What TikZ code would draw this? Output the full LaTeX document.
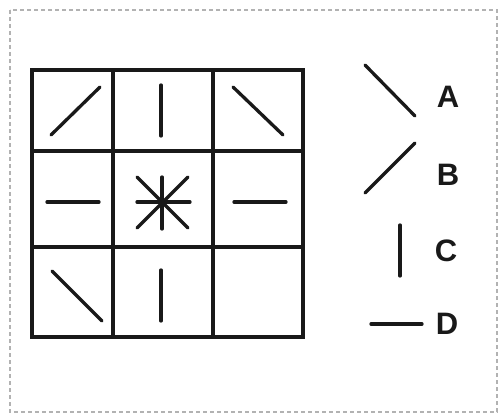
\documentclass[tikz,border=0pt]{standalone}
\usepackage{fontspec}
\setmainfont{Liberation Sans}
\begin{document}
\begin{tikzpicture}[x=1pt,y=-1pt,
  gridline/.style={line width=3.8pt,line cap=rect,black!90},
  stroke/.style={line width=3.3pt,line cap=round,black!90},
  frame/.style={draw=black!30,line width=1.4pt,dash pattern=on 4pt off 3pt},
  lbl/.style={font=\fontsize{31}{31}\selectfont\bfseries,text=black!90,inner sep=0pt}]
\useasboundingbox (0,0) rectangle (501,417);
\draw[frame] (10,10) rectangle (497,412);
% grid
\draw[gridline] (32,70) rectangle (303,337);
\draw[gridline] (113,70) -- (113,337);
\draw[gridline] (213,70) -- (213,337);
\draw[gridline] (32,151) -- (303,151);
\draw[gridline] (32,247) -- (303,247);
% row 1
\draw[stroke] (51,135) -- (100,87);
\draw[stroke] (161,85) -- (161,136);
\draw[stroke] (233,87) -- (283,135);
% row 2
\draw[stroke] (47,202) -- (99,202);
\coordinate (ctr) at (162,202);
\draw[stroke] (162,177) -- (162,229);
\draw[stroke] (137,202) -- (190,202);
\draw[stroke] (137,177) -- (188,228);
\draw[stroke] (188,177) -- (137,228);
\draw[stroke] (234,202) -- (286,202);
% row 3
\draw[stroke] (52,271) -- (102,321);
\draw[stroke] (161,270) -- (161,321);
% legend
\draw[stroke] (365,65) -- (415,116);
\node[lbl] (la) at (448,97) {A};
\draw[stroke] (415,143) -- (365,193);
\node[lbl] (lb) at (448,175) {B};
\draw[stroke] (400,225) -- (400,276);
\node[lbl] (lc) at (446,251) {C};
\draw[stroke] (371,324) -- (422,324);
\node[lbl] (ld) at (447,324) {D};
\end{tikzpicture}
\end{document}
